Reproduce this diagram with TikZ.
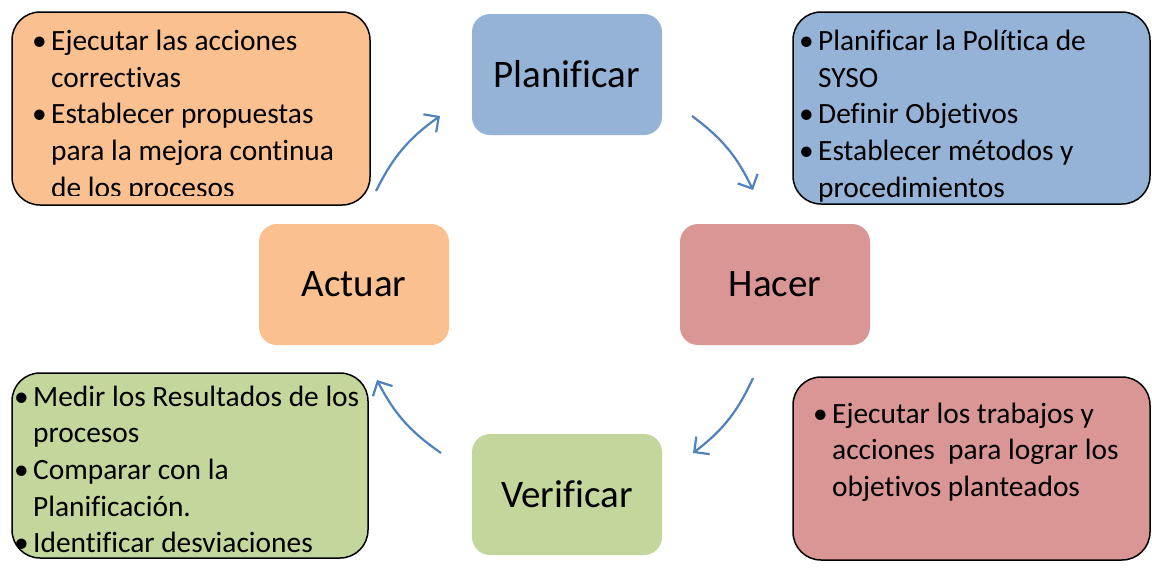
\documentclass[tikz,border=0pt]{standalone}
\usepackage{fontspec}
\setmainfont{Carlito}[Ligatures=NoCommon]
\usetikzlibrary{arrows.meta}

\definecolor{planblue}{HTML}{95B3D7}
\definecolor{hacerred}{HTML}{D99694}
\definecolor{verifgreen}{HTML}{C3D69B}
\definecolor{actorange}{HTML}{FAC090}
\definecolor{cycleblue}{HTML}{4F81BD}

\newcommand{\bul}{\makebox[19pt][l]{\textbullet}}
\newcommand{\ind}{\hspace*{19pt}}

\begin{document}
\begin{tikzpicture}[x=1pt, y=-1pt,
    phase/.style={rectangle, rounded corners=18pt, minimum width=190pt, minimum height=121pt, inner sep=0pt, font=\fontsize{39}{47}\selectfont},
    note/.style={draw=black, line width=1.5pt, rounded corners=28pt, inner sep=0pt},
    notetext/.style={anchor=base west, inner sep=0pt, font=\fontsize{29.4}{36.7}\selectfont},
    cyclearrow/.style={draw=cycleblue, line width=2.2pt, -{Straight Barb[length=11pt, width=22pt]}}]
    \useasboundingbox (0,0) rectangle (1152,568);

    \node[phase, fill=planblue] (plan) at (567,74.5) {Planificar};
    \node[phase, fill=hacerred] (hacer) at (775,284.5) {Hacer};
    \node[phase, fill=verifgreen] (verif) at (567,494.5) {Verificar};
    \node[phase, fill=actorange] (actuar) at (354,284.5) {Actuar};

    \node[note, fill=actorange, minimum width=358pt, minimum height=193pt] (actnote) at (191,108.5) {};
    \node[note, fill=planblue, minimum width=357pt, minimum height=192pt] (plannote) at (971.5,108) {};
    \node[note, fill=verifgreen, minimum width=356pt, minimum height=185pt] (verifnote) at (190,465.5) {};
    \node[note, fill=hacerred, minimum width=357pt, minimum height=183pt] (hacernote) at (971.5,468.5) {};

    \begin{scope}
        \clip (12,12) rectangle (370,195);
        \node[notetext] (acttext) at (32,50.5) {\parbox[t]{400pt}{\bul Ejecutar las acciones\\
            \ind correctivas\\
            \bul Establecer propuestas\\
            \ind para la mejora continua\\
            \ind de los procesos}};
    \end{scope}
    \node[notetext] (plantext) at (799,50.5) {\parbox[t]{400pt}{\bul Planificar la Política de\\
        \ind SYSO\\
        \bul Definir Objetivos\\
        \bul Establecer métodos y\\
        \ind procedimientos}};
    \node[notetext] (veriftext) at (14,406) {\parbox[t]{400pt}{\bul Medir los Resultados de los\\
        \ind procesos\\
        \bul Comparar con la\\
        \ind Planificación.\\
        \bul Identificar desviaciones}};
    \node[notetext] (hacertext) at (813,423) {\parbox[t]{400pt}{\bul Ejecutar los trabajos y\\
        \ind acciones\ \ para lograr los\\
        \ind objetivos planteados}};

    \coordinate (actout) at (376,191);
    \coordinate (planin) at (440,116);
    \coordinate (planout) at (692,116);
    \coordinate (hacerin) at (753,190);
    \coordinate (hacerout) at (753,378);
    \coordinate (verifin) at (693,453);
    \coordinate (verifout) at (441,453);
    \coordinate (actin) at (377,380);

    \draw[cyclearrow] (actout) to[bend left=14] (planin);
    \draw[cyclearrow] (planout) to[bend left=14] (hacerin);
    \draw[cyclearrow] (hacerout) to[bend left=14] (verifin);
    \draw[cyclearrow] (verifout) to[bend left=14] (actin);
\end{tikzpicture}
\end{document}
